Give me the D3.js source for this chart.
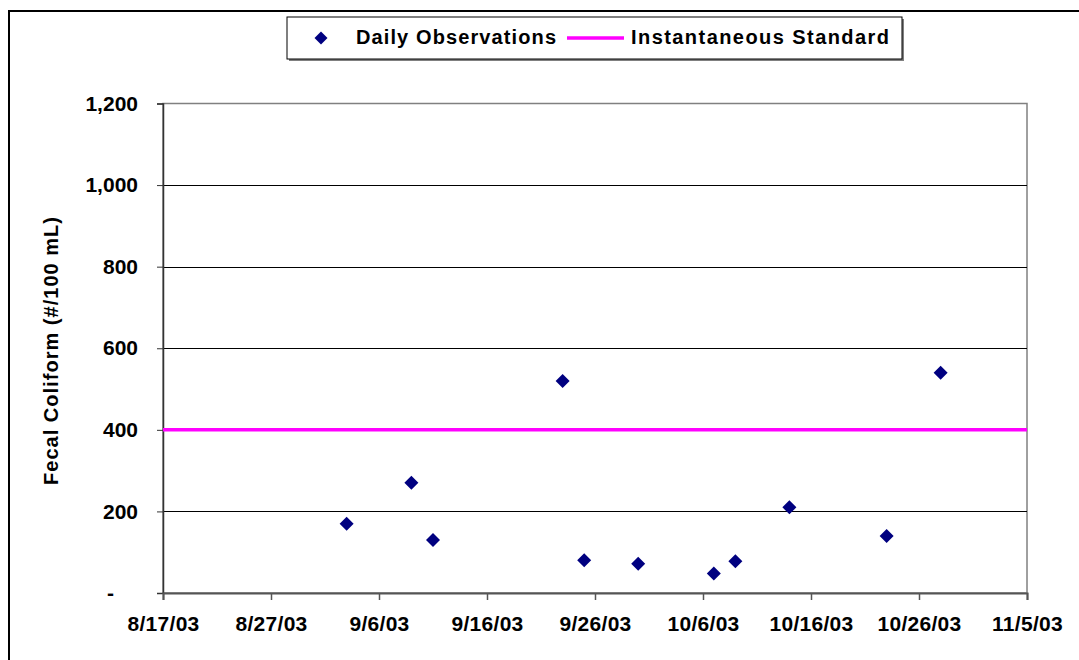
<!DOCTYPE html>
<html><head><meta charset="utf-8">
<script src="https://cdn.jsdelivr.net/npm/d3@7"></script>
<style>
html,body{margin:0;padding:0;background:#fff;}
svg{display:block;font-family:"Liberation Sans",Arial,sans-serif;font-weight:bold;}
</style></head>
<body><svg id="c" width="1079" height="660"></svg>
<script>
// ---- data ----
const obsDates = ["9/3/03","9/9/03","9/11/03","9/23/03","9/25/03","9/30/03","10/7/03","10/9/03","10/14/03","10/23/03","10/28/03"];
const obsValues = [170, 270, 130, 520, 80, 72, 48, 78, 210, 140, 540];
const standardValue = 400;
const xTickLabels = ["8/17/03","8/27/03","9/6/03","9/16/03","9/26/03","10/6/03","10/16/03","10/26/03","11/5/03"];
const yTickValues = [0, 200, 400, 600, 800, 1000, 1200];
const yTitle = "Fecal Coliform  (#/100 mL)";
const legendLabels = ["Daily Observations", "Instantaneous Standard"];

const parse = d3.timeParse("%m/%d/%y");
const svg = d3.select("#c");

// outer chart border
svg.append("rect").attr("x",9).attr("y",11).attr("width",1100).attr("height",700)
  .attr("fill","#fff").attr("stroke","#000").attr("stroke-width",2);

const L=163, R=1027, T=103.5, B=593;
const x = d3.scaleTime().domain([parse(xTickLabels[0]), parse(xTickLabels[xTickLabels.length-1])]).range([L,R]);
const y = d3.scaleLinear().domain([0,1200]).range([B,T]);

// plot area border (top/right gray)
svg.append("rect").attr("x",L).attr("y",T).attr("width",R-L).attr("height",B-T)
  .attr("fill","#fff").attr("stroke","#808080").attr("stroke-width",1.5);

// gridlines
svg.append("g").selectAll("line").data(yTickValues.filter(v=>v>0 && v<1200)).join("line")
  .attr("x1",L).attr("x2",R).attr("y1",d=>Math.round(y(d))+0.5).attr("y2",d=>Math.round(y(d))+0.5)
  .attr("stroke","#000").attr("stroke-width",1);

// y axis
const yAxis = d3.axisLeft(y).tickValues(yTickValues).tickSize(6).tickPadding(19)
  .tickFormat(d=> d===0 ? "-" : d3.format(",")(d));
const gy = svg.append("g").attr("transform",`translate(${L},0)`).call(yAxis);
gy.select(".domain").attr("stroke","#333").attr("stroke-width",1.5);
gy.selectAll(".tick line").attr("stroke","#333");
gy.selectAll(".tick text").attr("font-size",21).attr("font-weight","bold").attr("fill","#000")
  .attr("font-family","Liberation Sans, Arial, sans-serif")
  .attr("dx", d=> d===0 ? -24 : 0);

// x axis
const xAxis = d3.axisBottom(x).tickValues(xTickLabels.map(parse)).tickSize(7).tickPadding(16)
  .tickFormat((d,i)=>xTickLabels[i]);
const gx = svg.append("g").attr("transform",`translate(0,${B})`).call(xAxis);
gx.select(".domain").attr("stroke","#555").attr("stroke-width",2);
gx.selectAll(".tick line").attr("stroke","#555").attr("stroke-width",1.5);
gx.selectAll(".tick text").attr("font-size",21).attr("font-weight","bold").attr("fill","#000")
  .attr("font-family","Liberation Sans, Arial, sans-serif").attr("letter-spacing",0.3);

// standard line
svg.append("line").attr("x1",L).attr("x2",R).attr("y1",y(standardValue)).attr("y2",y(standardValue))
  .attr("stroke","#FF00FF").attr("stroke-width",3.5);

// points
const diamond = d3.symbol().type(d3.symbolSquare).size(98);
svg.append("g").selectAll("path").data(obsDates.map((d,i)=>({d:parse(d),v:obsValues[i]}))).join("path")
  .attr("d",diamond).attr("fill","#000080")
  .attr("transform",p=>`translate(${x(p.d)},${y(p.v)}) rotate(45)`);

// y title
svg.append("text").attr("transform",`translate(58,351) rotate(-90)`).attr("text-anchor","middle")
  .attr("font-size",20).attr("fill","#000").attr("textLength",268).attr("lengthAdjust","spacing").text(yTitle);

// legend
const lg = svg.append("g");
lg.append("rect").attr("x",289).attr("y",19).attr("width",615).attr("height",42).attr("fill","#808080");
lg.append("rect").attr("x",287).attr("y",17).attr("width",615).attr("height",42).attr("fill","#fff").attr("stroke","#000").attr("stroke-width",1);
lg.append("path").attr("d",d3.symbol().type(d3.symbolSquare).size(85)).attr("fill","#000080")
  .attr("transform","translate(321,38) rotate(45)");
lg.append("text").attr("x",356).attr("y",44).attr("font-size",20).attr("textLength",200).attr("lengthAdjust","spacing").text(legendLabels[0]);
lg.append("line").attr("x1",567).attr("x2",624).attr("y1",38).attr("y2",38).attr("stroke","#FF00FF").attr("stroke-width",3.5);
lg.append("text").attr("x",631).attr("y",44).attr("font-size",20).attr("textLength",258).attr("lengthAdjust","spacing").text(legendLabels[1]);
</script></body></html>
